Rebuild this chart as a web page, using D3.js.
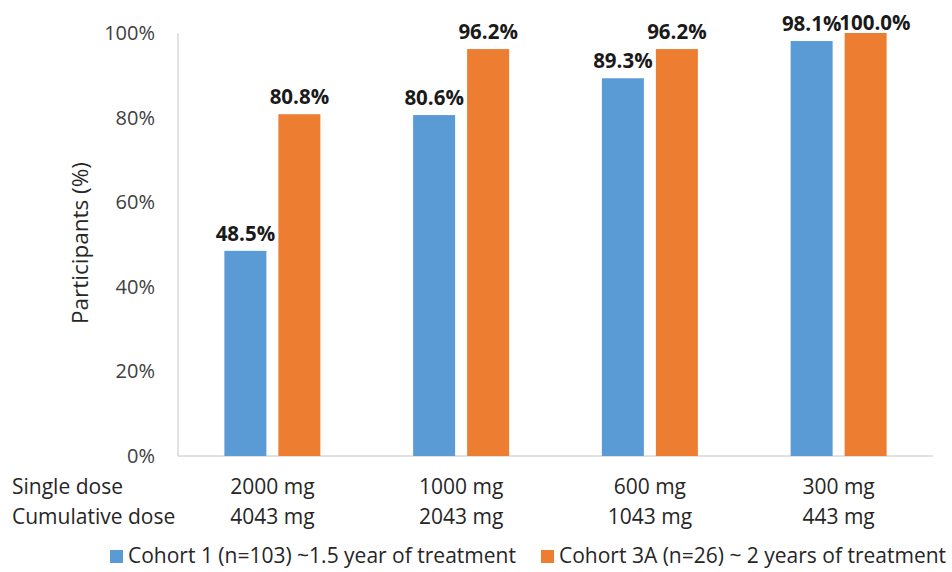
<!DOCTYPE html>
<html><head><meta charset="utf-8">
<script src="https://cdn.jsdelivr.net/npm/d3@7"></script>
<style>body{margin:0;background:#fff;} text{font-family:"Open Sans","Noto Sans",sans-serif;}</style>
</head><body><svg id="c" width="952" height="572"></svg>
<script>
const singleDose = ["2000 mg","1000 mg","600 mg","300 mg"];
const cumulativeDose = ["4043 mg","2043 mg","1043 mg","443 mg"];
const seriesNames = ["Cohort 1 (n=103) ~1.5 year of treatment","Cohort 3A (n=26) ~ 2 years of treatment"];
const cohort1 = [48.5, 80.6, 89.3, 98.1];
const cohort3A = [80.8, 96.2, 96.2, 100.0];
const yTicks = [0,20,40,60,80,100];
const colors = ["#5B9BD5","#ED7D31"];

(function(){
const svg = d3.select("#c");
const pL=178, pR=933, pT=33, pB=456;
const x = d3.scaleBand().domain(singleDose).range([pL,pR]);
const y = d3.scaleLinear().domain([0,100]).range([pB,pT]);
const xs = d3.scaleBand().domain([0,1]).range([0,96]).paddingInner(12/54);
const series=[cohort1,cohort3A];

svg.append("line").attr("x1",pL).attr("x2",pL).attr("y1",pT).attr("y2",pB).attr("stroke","#d9d9d9").attr("stroke-width",1.5);
svg.append("line").attr("x1",pL).attr("x2",pR).attr("y1",pB).attr("y2",pB).attr("stroke","#d9d9d9").attr("stroke-width",1.5);

svg.selectAll(".yt").data(yTicks).join("text").attr("x",155).attr("y",d=>y(d)).attr("dy","0.35em")
  .attr("text-anchor","end").attr("font-size",20).attr("fill","#404040").text(d=>d+"%");

svg.append("text").attr("transform",`translate(80,243) rotate(-90)`).attr("text-anchor","middle")
  .attr("dy","0.35em").attr("font-size",22.5).attr("fill","#262626").text("Participants (%)");

const labels=[];
series.forEach((vals,si)=>{
  const g=svg.append("g");
  g.selectAll("rect").data(vals).join("rect")
    .attr("x",(d,i)=>x(singleDose[i])+x.bandwidth()/2-48+xs(si))
    .attr("width",xs.bandwidth())
    .attr("y",d=>y(d)).attr("height",d=>pB-y(d)).attr("fill",colors[si]);
  g.selectAll("text").data(vals).join("text")
    .attr("x",(d,i)=>x(singleDose[i])+x.bandwidth()/2-48+xs(si)+xs.bandwidth()/2)
    .attr("y",d=>Math.max(y(d)-10,30)).attr("text-anchor","middle").attr("font-size",20.5).attr("font-weight","bold")
    .attr("fill","#1a1a1a").text(d=>d.toFixed(1)+"%")
    .each(function(d,i){ labels[i*2+si]=this; });
});
// nudge the orange label right if it collides with the blue one (as in the reference)
for(let i=1;i<labels.length;i+=2){
  const a=labels[i-1].getBBox(), b=labels[i].getBBox();
  const ov=(a.x+a.width)-b.x;
  if(ov>0 && Math.abs(a.y-b.y)<a.height) d3.select(labels[i]).attr("dx",ov-2);
}

svg.selectAll(".c1").data(singleDose).join("text").attr("x",d=>x(d)+x.bandwidth()/2).attr("y",494)
  .attr("text-anchor","middle").attr("font-size",21).attr("fill","#262626").text(d=>d);
svg.selectAll(".c2").data(cumulativeDose).join("text").attr("x",(d,i)=>x(singleDose[i])+x.bandwidth()/2).attr("y",524)
  .attr("text-anchor","middle").attr("font-size",21).attr("fill","#262626").text(d=>d);
svg.append("text").attr("x",12).attr("y",494).attr("font-size",21).attr("fill","#262626").text("Single dose");
svg.append("text").attr("x",12).attr("y",524).attr("font-size",21).attr("fill","#262626").text("Cumulative dose");

const lx=[110,541];
seriesNames.forEach((n,i)=>{
  svg.append("rect").attr("x",lx[i]).attr("y",550).attr("width",13).attr("height",13).attr("fill",colors[i]);
  svg.append("text").attr("x",lx[i]+18).attr("y",563).attr("font-size",21).attr("fill","#262626").text(n);
});
})();
</script></body></html>
